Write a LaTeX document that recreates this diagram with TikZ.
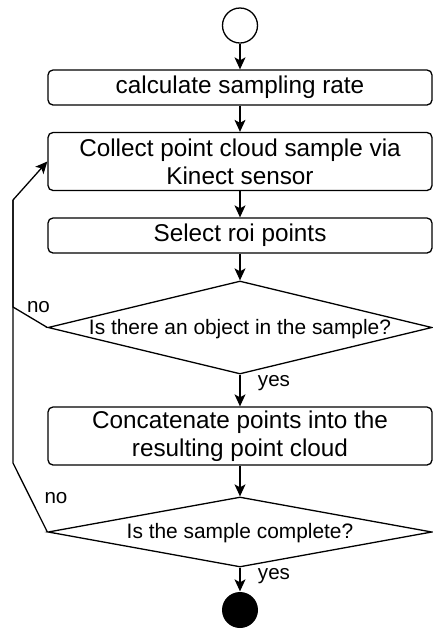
\documentclass[tikz,border=0pt]{standalone}
\usepackage{fontspec}
\setmainfont{Liberation Sans}
\usetikzlibrary{shapes.geometric,arrows.meta}
\tikzset{
  every path/.style={line width=1.3pt},
  stepbox/.style={draw, rounded corners=5pt, minimum width=384pt, inner sep=0pt, align=center,
    font=\fontsize{24.3}{28}\selectfont},
  decision/.style={draw, shape=diamond, inner sep=0pt},
  dtext/.style={font=\fontsize{20.9}{24}\selectfont, inner sep=0pt},
  lbl/.style={font=\fontsize{20.6}{24}\selectfont, inner sep=0pt},
  arr/.style={-{Stealth[length=12pt,width=11pt,inset=3pt]}},
}
\begin{document}
\begin{tikzpicture}[x=1pt,y=-1pt]
\useasboundingbox (0,0) rectangle (433,630);
\node[draw, circle, minimum size=35pt, inner sep=0pt] (start) at (240,25.5) {};
\node[stepbox, minimum height=35pt] (b1) at (240,87.5) {calculate sampling rate};
\node[stepbox, minimum height=58pt] (b2) at (240,161.5) {Collect point cloud sample via\\Kinect sensor};
\node[stepbox, minimum height=35pt] (b3) at (240,235.5) {Select roi points};
\node[decision, minimum width=384pt, minimum height=93pt] (d1) at (240,327.5) {};
\node[dtext] (t1) at (240,329) {Is there an object in the sample?};
\node[stepbox, minimum height=58pt] (b4) at (240,436) {Concatenate points into the\\resulting point cloud};
\node[decision, minimum width=384pt, minimum height=70pt] (d2) at (240,532) {};
\node[dtext] (t2) at (240,533) {Is the sample complete?};
\node[circle, fill=black, minimum size=36pt, inner sep=0pt] (end) at (240,610) {};
\coordinate (c1) at (13,307);
\coordinate (c2) at (13,463);
\coordinate (ctop) at (13,200);
\draw[arr] (start) -- (b1);
\draw[arr] (b1) -- (b2);
\draw[arr] (b2) -- (b3);
\draw[arr] (b3) -- (d1.north);
\draw[arr] (d1.south) -- (b4);
\draw[arr] (b4) -- (d2.north);
\draw[arr] (d2.south) -- (end);
\draw[arr] (d1.west) -- (c1) -- (ctop) -- (b2.west);
\draw (d2.west) -- (c2) -- (ctop);
\node[lbl] (no1) at (38.5,307) {no};
\node[lbl] (no2) at (56,498) {no};
\node[lbl] (yes1) at (274,383) {yes};
\node[lbl] (yes2) at (274,576) {yes};
\end{tikzpicture}
\end{document}
